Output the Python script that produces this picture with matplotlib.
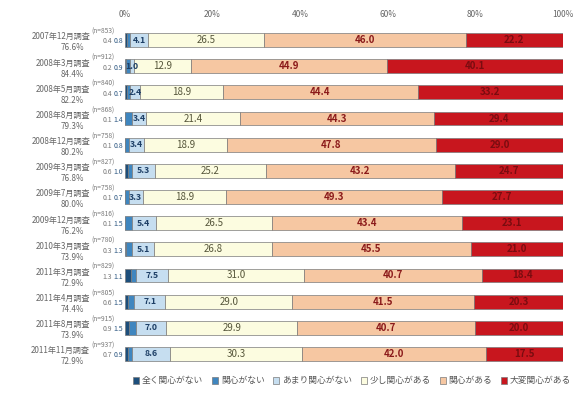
import numpy as np
import matplotlib
matplotlib.use('Agg')
import matplotlib.pyplot as plt

plt.rcParams['font.family'] = ['Noto Sans CJK JP', 'DejaVu Sans']

surveys = ['2007年12月調査', '2008年3月調査', '2008年5月調査', '2008年8月調査',
           '2008年12月調査', '2009年3月調査', '2009年7月調査', '2009年12月調査',
           '2010年3月調査', '2011年3月調査', '2011年4月調査', '2011年8月調査',
           '2011年11月調査']
n_resp = ['(n=853)', '(n=912)', '(n=840)', '(n=868)', '(n=758)', '(n=827)',
          '(n=758)', '(n=816)', '(n=780)', '(n=829)', '(n=805)', '(n=915)',
          '(n=937)']
rates = ['76.6%', '84.4%', '82.2%', '79.3%', '80.2%', '76.8%', '80.0%',
         '76.2%', '73.9%', '72.9%', '74.4%', '73.9%', '72.9%']

categories = ['全く関心がない', '関心がない', 'あまり関心がない',
              '少し関心がある', '関心がある', '大変関心がある']

none_at_all = [0.4, 0.2, 0.4, 0.1, 0.1, 0.6, 0.1, 0.1, 0.3, 1.3, 0.6, 0.9, 0.7]
not_int     = [0.8, 0.9, 0.7, 1.4, 0.8, 1.0, 0.7, 1.5, 1.3, 1.1, 1.5, 1.5, 0.9]
little_not  = [4.1, 1.0, 2.4, 3.4, 3.4, 5.3, 3.3, 5.4, 5.1, 7.5, 7.1, 7.0, 8.6]
some_int    = [26.5, 12.9, 18.9, 21.4, 18.9, 25.2, 18.9, 26.5, 26.8, 31.0, 29.0, 29.9, 30.3]
interested  = [46.0, 44.9, 44.4, 44.3, 47.8, 43.2, 49.3, 43.4, 45.5, 40.7, 41.5, 40.7, 42.0]
very_int    = [22.2, 40.1, 33.2, 29.4, 29.0, 24.7, 27.7, 23.1, 21.0, 18.4, 20.3, 20.0, 17.5]

series = [none_at_all, not_int, little_not, some_int, interested, very_int]
colors = ['#1d4f7c', '#3f86bf', '#c6def0', '#fcfce0', '#f6c7a2', '#c8161e']
label_colors = ['#777777', '#2a5580', '#1d3f66', '#55553a', '#8b1a1a', '#7a0c10']

fig = plt.figure(figsize=(5.8, 3.93), dpi=100)
ax = fig.add_axes([125 / 580, 1 - 367 / 393, 438 / 580, 340 / 393])
tr = ax.get_yaxis_transform()

y = np.arange(len(surveys))
left = np.zeros(len(surveys))
for k, vals in enumerate(series):
    vals = np.array(vals)
    ax.barh(y, vals, left=left, height=0.53, color=colors[k],
            edgecolor='#7a7a7a', linewidth=0.5, label=categories[k])
    for i, v in enumerate(vals):
        if k == 0:
            # two thinnest shares are labelled outside, left of the bar
            ax.text(-0.03, i + 0.05, f'{v:.1f}', transform=tr,
                    ha='right', va='center', fontsize=5, color=label_colors[k])
        elif k == 1:
            ax.text(-0.004, i + 0.05, f'{v:.1f}', transform=tr,
                    ha='right', va='center', fontsize=5, color=label_colors[k])
        elif k == 2:
            ax.text(left[i] + v / 2, i, f'{v:.1f}', ha='center', va='center',
                    fontsize=6.3, color=label_colors[k], fontweight='bold')
        else:
            ax.text(left[i] + v / 2, i, f'{v:.1f}', ha='center', va='center',
                    fontsize=7, color=label_colors[k],
                    fontweight='bold' if k >= 4 else 'normal')
    left += vals

ax.set_xlim(0, 100)
ax.set_ylim(len(surveys) - 0.5, -0.5)
ax.xaxis.tick_top()
ax.set_xticks([0, 20, 40, 60, 80, 100])
ax.set_xticklabels(['0%', '20%', '40%', '60%', '80%', '100%'])
ax.tick_params(axis='x', length=0, labelsize=6, labelcolor='#666666', pad=6)
ax.set_yticks([])
for s in ax.spines.values():
    s.set_visible(False)

# two-line survey labels on the left
for i in range(len(surveys)):
    ax.text((90 - 125) / 438, i - 0.12, surveys[i], transform=tr, ha='right',
            va='center', fontsize=5.8, color='#666666')
    ax.text((91 - 125) / 438, i - 0.32, n_resp[i], transform=tr, ha='left',
            va='center', fontsize=4.8, color='#777777')
    ax.text((72 - 125) / 438, i + 0.3, rates[i], transform=tr, ha='center',
            va='center', fontsize=5.8, color='#666666')

fig.legend(loc='center', bbox_to_anchor=(352 / 580, 1 - 381 / 393), ncol=6,
           frameon=False, fontsize=6.3, handlelength=0.7, handleheight=0.7,
           handletextpad=0.3, columnspacing=1.0, labelcolor='#555555')

fig.savefig('out.png', dpi=100)
